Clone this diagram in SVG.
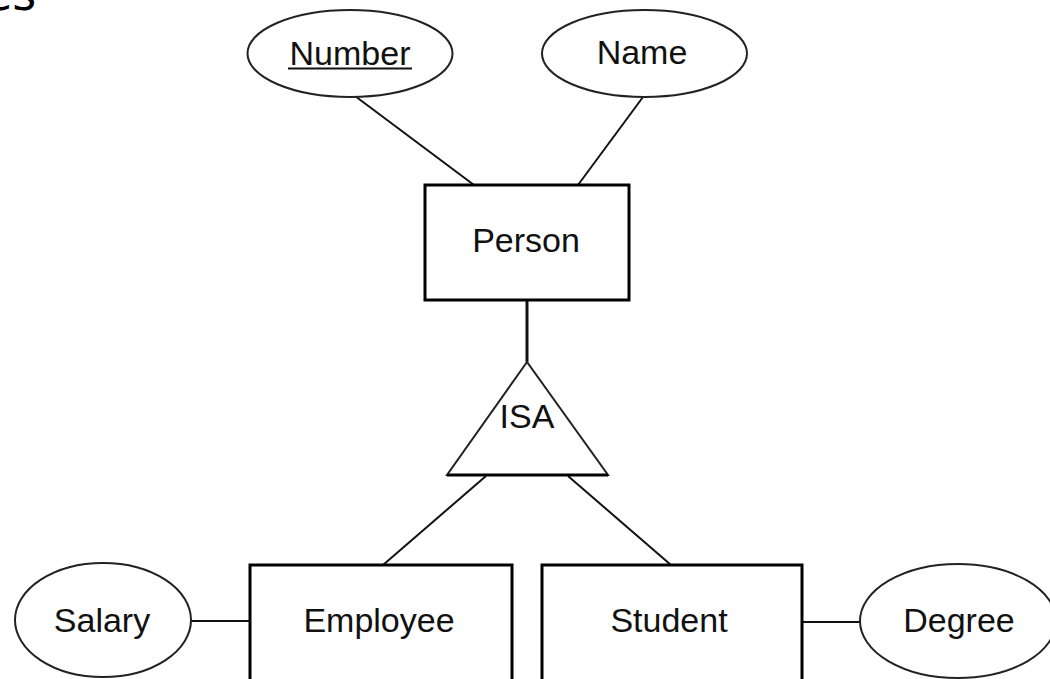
<svg xmlns="http://www.w3.org/2000/svg" width="1050" height="679" viewBox="0 0 1050 679">
<style>
.lbl{font-family:"Liberation Sans",Arial,sans-serif;font-size:34px;fill:#111;text-anchor:middle}
.ent{fill:#fff;stroke:#000;stroke-width:3}
.att{fill:#fff;stroke:#222;stroke-width:2}
.con line{stroke:#111;stroke-width:2}
</style>
<rect width="1050" height="679" fill="#fff"/>
<text x="-16" y="10" style="font-family:'DejaVu Sans',sans-serif;font-size:46px;fill:#000">es</text>
<g class="con">
<line x1="355" y1="96" x2="474" y2="185"/>
<line x1="643" y1="97" x2="578" y2="185"/>
<line x1="527" y1="300" x2="527" y2="362" style="stroke-width:3"/>
<line x1="486" y1="476" x2="383" y2="565"/>
<line x1="568" y1="476" x2="671" y2="565"/>
<line x1="191" y1="621" x2="250" y2="621"/>
<line x1="802" y1="622" x2="860" y2="622"/>
</g>
<g id="number">
<ellipse class="att" cx="350" cy="53.5" rx="102.5" ry="43.5"/>
<text class="lbl" x="350" y="65">Number</text>
<line x1="288" y1="68.5" x2="412" y2="68.5" stroke="#111" stroke-width="2"/>
</g>
<g id="name">
<ellipse class="att" cx="644.5" cy="53.5" rx="102.5" ry="43.5"/>
<text class="lbl" x="642" y="64">Name</text>
</g>
<g id="person">
<rect class="ent" x="425" y="185" width="204" height="115"/>
<text class="lbl" x="526" y="252">Person</text>
</g>
<g id="isa">
<polygon points="527,362 447,475 608,475" fill="#fff" stroke="#222" stroke-width="2"/>
<line x1="447" y1="475" x2="608" y2="475" stroke="#000" stroke-width="3"/>
<text class="lbl" x="527" y="428">ISA</text>
</g>
<g id="employee">
<rect class="ent" x="250" y="565" width="262" height="130"/>
<text class="lbl" x="379" y="632">Employee</text>
</g>
<g id="student">
<rect class="ent" x="542" y="565" width="260" height="130"/>
<text class="lbl" x="669" y="632">Student</text>
</g>
<g id="salary">
<ellipse class="att" cx="103" cy="620" rx="88" ry="57"/>
<text class="lbl" x="102" y="632">Salary</text>
</g>
<g id="degree">
<ellipse class="att" cx="958" cy="621" rx="98" ry="57"/>
<text class="lbl" x="959" y="632">Degree</text>
</g>
</svg>
